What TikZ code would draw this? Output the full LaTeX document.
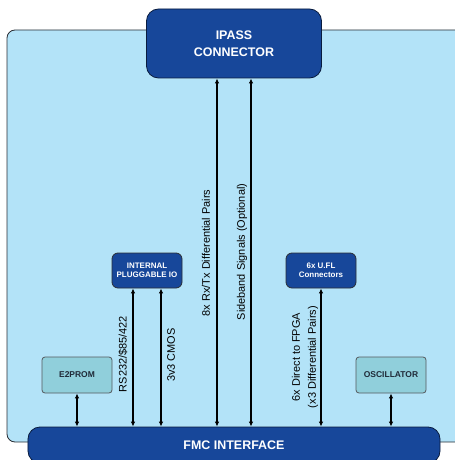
\documentclass[tikz,border=0pt]{standalone}
\usepackage{fontspec}
\setmainfont{Liberation Sans}
\usetikzlibrary{arrows.meta}
\definecolor{bgblue}{HTML}{B3E3F8}
\definecolor{darkblue}{HTML}{17479A}
\definecolor{teal}{HTML}{90CFDB}
\definecolor{edge}{HTML}{2B2F36}
\definecolor{tealtext}{HTML}{1F2A38}
\tikzset{
  bigbox/.style={draw=darkblue!40!black, fill=darkblue, text=white, font=\bfseries\fontsize{12.5}{14.5}\selectfont, rounded corners=12bp, line width=0.8bp, align=center, inner sep=0pt},
  smallbox/.style={draw=edge, fill=darkblue, text=white, font=\bfseries\fontsize{8}{9}\selectfont, rounded corners=6bp, line width=0.8bp, align=center, minimum width=70bp, minimum height=35bp, inner sep=0pt},
  tealbox/.style={draw=edge!80, fill=teal, text=tealtext, font=\bfseries\fontsize{8.5}{9.5}\selectfont, rounded corners=3bp, line width=0.8bp, align=center, minimum width=70bp, minimum height=36bp, inner sep=0pt},
  arr/.style={line width=1.2bp, {Latex[length=5bp,width=4.5bp]}-{Latex[length=5bp,width=4.5bp]}},
  lbl/.style={rotate=90, font=\fontsize{11}{13}\selectfont, inner sep=0pt, align=center}
}
\begin{document}
\begin{tikzpicture}[x=1bp,y=-1bp]
\useasboundingbox (0,0) rectangle (455,460);
\fill[white] (0,0) rectangle (455,460);
% background panel
\draw[draw=edge, fill=bgblue, line width=0.8bp, rounded corners=8bp] (7,30) rectangle (470,442);
% main nodes
\node[bigbox, minimum width=175bp, minimum height=69bp] (ipass) at (234,43.5) {IPASS\\[2bp]CONNECTOR};
\node[bigbox, minimum width=412bp, minimum height=36bp] (fmc) at (234,445) {FMC INTERFACE};
\node[smallbox] (pio) at (147,270.5) {INTERNAL\\PLUGGABLE IO};
\node[smallbox] (ufl) at (321,270.5) {6x U.FL\\Connectors};
\node[tealbox] (e2p) at (77,375) {E2PROM};
\node[tealbox] (osc) at (391,375) {OSCILLATOR};
% connector x positions
\coordinate (xa) at (217,0);
\coordinate (xb) at (251,0);
\coordinate (xc) at (133,0);
\coordinate (xd) at (161,0);
% connectors
\draw[arr] (ipass.south -| xa) -- (fmc.north -| xa);
\draw[arr] (ipass.south -| xb) -- (fmc.north -| xb);
\draw[arr] (pio.south -| xc) -- (fmc.north -| xc);
\draw[arr] (pio.south -| xd) -- (fmc.north -| xd);
\draw[arr] (ufl.south) -- (fmc.north -| ufl.south);
\draw[arr] (e2p.south) -- (fmc.north -| e2p.south);
\draw[arr] (osc.south) -- (fmc.north -| osc.south);
% labels
\node[lbl] (l1) at (123,354) {RS232/\$85/422};
\node[lbl] (l2) at (171,355) {3v3 CMOS};
\node[lbl] (l3) at (206,253) {8x Rx/Tx Differential Pairs};
\node[lbl] (l4) at (242,252) {Sideband Signals (Optional)};
\node[lbl] (l5) at (296,357) {6x Direct to FPGA};
\node[lbl] (l6) at (313,357) {(x3 Differential Pairs)};
\end{tikzpicture}
\end{document}
